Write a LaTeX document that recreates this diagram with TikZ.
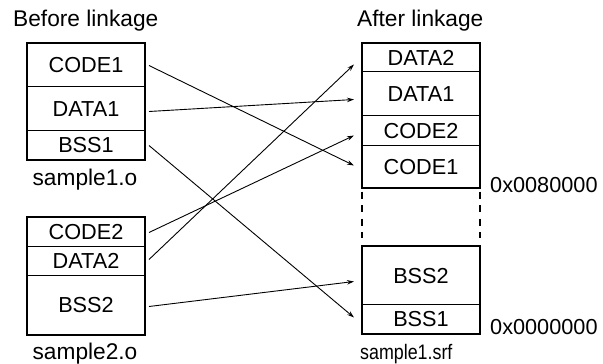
\documentclass[tikz,border=0pt]{standalone}
\usepackage{fontspec}
\setmainfont{Liberation Sans}
\usetikzlibrary{arrows.meta,calc}
\begin{document}
\begin{tikzpicture}[x=1pt,y=1pt,
  txt/.style={font=\fontsize{21.7}{26}\selectfont, inner sep=0pt},
  lbl/.style={font=\fontsize{22.7}{27}\selectfont, inner sep=0pt},
  seg/.style={txt, draw, line width=1pt, anchor=north west, minimum width=117pt, text height=15.6pt, text depth=0pt},
  outer/.style={line width=2pt},
  link/.style={line width=0.9pt, -{Stealth[length=7pt,width=4.5pt]}}]
\useasboundingbox (0,0) rectangle (603,-364);
% left box 1
\node[seg, minimum height=43pt] (code1) at (27,-43) {CODE1};
\node[seg, minimum height=44pt] (data1) at (27,-86) {DATA1};
\node[seg, minimum height=29pt] (bss1) at (27,-130) {BSS1};
\draw[outer] (code1.north west) rectangle (bss1.south east);
% left box 2
\node[seg, minimum height=29pt] (code2) at (27,-217) {CODE2};
\node[seg, minimum height=29pt] (data2) at (27,-246) {DATA2};
\node[seg, minimum height=59pt] (bss2) at (27,-275) {BSS2};
\draw[outer] (code2.north west) rectangle (bss2.south east);
% right box
\node[seg, minimum height=28pt] (rdata2) at (362,-43) {DATA2};
\node[seg, minimum height=44pt] (rdata1) at (362,-71) {DATA1};
\node[seg, minimum height=30pt] (rcode2) at (362,-115) {CODE2};
\node[seg, minimum height=42pt] (rcode1) at (362,-145) {CODE1};
\draw[outer] (rdata2.north west) rectangle (rcode1.south east);
\node[seg, minimum height=58pt] (rbss2) at (362,-246) {BSS2};
\node[seg, minimum height=29pt] (rbss1) at (362,-304) {BSS1};
\draw[outer] (rbss2.north west) rectangle (rbss1.south east);
\draw[outer, dash pattern=on 7pt off 6.5pt] ($(rcode1.south west)+(0,-3.5)$) -- ($(rbss2.north west)+(0,8)$);
\draw[outer, dash pattern=on 7pt off 6.5pt] ($(rcode1.south east)+(0,-3.5)$) -- ($(rbss2.north east)+(0,8)$);
% labels
\node[lbl, anchor=base west] (before) at (13,-26.7) {Before linkage};
\node[lbl, anchor=base west] (after) at (357,-26.7) {After linkage};
\node[lbl, anchor=base] (s1o) at (85,-185) {sample1.o};
\node[lbl, anchor=base] (s2o) at (85,-359) {sample2.o};
\node[inner sep=0pt, font=\fontsize{21}{25}\selectfont, anchor=base west] (srf) at (360,-359) {\scalebox{0.85}[1]{sample1.srf}};
\node[txt, anchor=base west] (a80) at (490,-192) {0x0080000};
\node[txt, anchor=base west] (a00) at (490,-334) {0x0000000};
% connectors
\draw[link] ($(code1.east)+(4,-0.5)$) -- ($(rcode1.west)+(-8,1)$);
\draw[link] ($(data1.east)+(4,-3)$) -- ($(rdata1.west)+(-8,-6)$);
\draw[link] ($(bss1.east)+(4,-0.5)$) -- ($(rbss1.west)+(-8,1.5)$);
\draw[link] ($(code2.east)+(4,-0.5)$) -- ($(rcode2.west)+(-8,-5)$);
\draw[link] ($(data2.east)+(4,1.5)$) -- ($(rdata2.west)+(-8,-7)$);
\draw[link] ($(bss2.east)+(4,-1.5)$) -- ($(rbss2.west)+(-8,-6)$);
\end{tikzpicture}
\end{document}
